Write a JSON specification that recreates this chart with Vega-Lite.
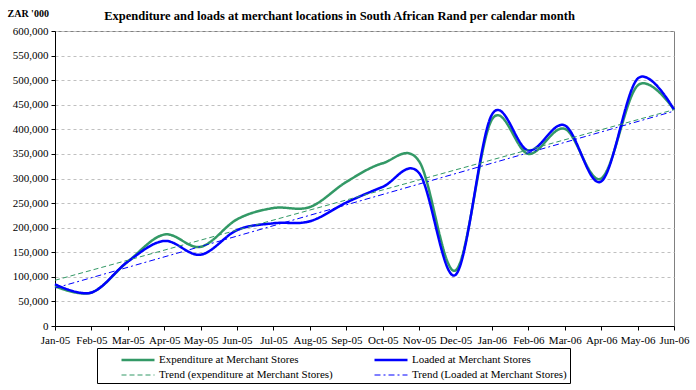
{
  "$schema": "https://vega.github.io/schema/vega-lite/v6.json",
  "width": 619,
  "height": 295,
  "autosize": "none",
  "padding": {"left": 55, "top": 31, "right": 22, "bottom": 64},
  "background": "white",
  "title": {
    "text": "Expenditure and loads at merchant locations in South African Rand per calendar month",
    "font": "Liberation Serif",
    "fontSize": 12.5,
    "fontWeight": "bold",
    "color": "black",
    "anchor": "middle",
    "offset": -14,
    "dx": -25
  },
  "datasets": {
    "main": [
      {"month": "Jan-05", "series": "Expenditure at Merchant Stores", "value": 81000},
      {"month": "Feb-05", "series": "Expenditure at Merchant Stores", "value": 68000},
      {"month": "Mar-05", "series": "Expenditure at Merchant Stores", "value": 131000},
      {"month": "Apr-05", "series": "Expenditure at Merchant Stores", "value": 186000},
      {"month": "May-05", "series": "Expenditure at Merchant Stores", "value": 161000},
      {"month": "Jun-05", "series": "Expenditure at Merchant Stores", "value": 217000},
      {"month": "Jul-05", "series": "Expenditure at Merchant Stores", "value": 240000},
      {"month": "Aug-05", "series": "Expenditure at Merchant Stores", "value": 242000},
      {"month": "Sep-05", "series": "Expenditure at Merchant Stores", "value": 293000},
      {"month": "Oct-05", "series": "Expenditure at Merchant Stores", "value": 331000},
      {"month": "Nov-05", "series": "Expenditure at Merchant Stores", "value": 335000},
      {"month": "Dec-05", "series": "Expenditure at Merchant Stores", "value": 113000},
      {"month": "Jan-06", "series": "Expenditure at Merchant Stores", "value": 420000},
      {"month": "Feb-06", "series": "Expenditure at Merchant Stores", "value": 350000},
      {"month": "Mar-06", "series": "Expenditure at Merchant Stores", "value": 401000},
      {"month": "Apr-06", "series": "Expenditure at Merchant Stores", "value": 300000},
      {"month": "May-06", "series": "Expenditure at Merchant Stores", "value": 489000},
      {"month": "Jun-06", "series": "Expenditure at Merchant Stores", "value": 440000},
      {"month": "Jan-05", "series": "Loaded at Merchant Stores", "value": 85000},
      {"month": "Feb-05", "series": "Loaded at Merchant Stores", "value": 68000},
      {"month": "Mar-05", "series": "Loaded at Merchant Stores", "value": 131000},
      {"month": "Apr-05", "series": "Loaded at Merchant Stores", "value": 173000},
      {"month": "May-05", "series": "Loaded at Merchant Stores", "value": 145000},
      {"month": "Jun-05", "series": "Loaded at Merchant Stores", "value": 195000},
      {"month": "Jul-05", "series": "Loaded at Merchant Stores", "value": 209000},
      {"month": "Aug-05", "series": "Loaded at Merchant Stores", "value": 213000},
      {"month": "Sep-05", "series": "Loaded at Merchant Stores", "value": 251000},
      {"month": "Oct-05", "series": "Loaded at Merchant Stores", "value": 283000},
      {"month": "Nov-05", "series": "Loaded at Merchant Stores", "value": 311000},
      {"month": "Dec-05", "series": "Loaded at Merchant Stores", "value": 104000},
      {"month": "Jan-06", "series": "Loaded at Merchant Stores", "value": 430000},
      {"month": "Feb-06", "series": "Loaded at Merchant Stores", "value": 357000},
      {"month": "Mar-06", "series": "Loaded at Merchant Stores", "value": 408000},
      {"month": "Apr-06", "series": "Loaded at Merchant Stores", "value": 294000},
      {"month": "May-06", "series": "Loaded at Merchant Stores", "value": 503000},
      {"month": "Jun-06", "series": "Loaded at Merchant Stores", "value": 440000}
    ],
    "trend": [
      {"month": "Jan-05", "series": "Trend (expenditure at Merchant Stores)", "value": 93000},
      {"month": "Jun-06", "series": "Trend (expenditure at Merchant Stores)", "value": 440000},
      {"month": "Jan-05", "series": "Trend (Loaded at Merchant Stores)", "value": 77000},
      {"month": "Jun-06", "series": "Trend (Loaded at Merchant Stores)", "value": 437000}
    ]
  },
  "encoding": {
    "x": {
      "field": "month",
      "type": "ordinal",
      "sort": ["Jan-05","Feb-05","Mar-05","Apr-05","May-05","Jun-05","Jul-05","Aug-05","Sep-05","Oct-05","Nov-05","Dec-05","Jan-06","Feb-06","Mar-06","Apr-06","May-06","Jun-06"],
      "scale": {"type": "point", "padding": 0},
      "axis": {
        "title": null,
        "labelAngle": 0,
        "grid": false,
        "tickSize": 4,
        "labelPadding": 4
      }
    },
    "y": {
      "field": "value",
      "type": "quantitative",
      "scale": {"domain": [0, 600000], "nice": false},
      "axis": {
        "title": "ZAR '000",
        "titleAngle": 0,
        "titleX": -48,
        "titleY": -18,
        "titleAlign": "left",
        "titleBaseline": "middle",
        "titleFont": "Liberation Serif",
        "titleFontSize": 10,
        "titleFontWeight": "bold",
        "titleColor": "black",
        "values": [0, 50000, 100000, 150000, 200000, 250000, 300000, 350000, 400000, 450000, 500000, 550000, 600000],
        "format": ",.0f",
        "grid": true,
        "gridDash": [3, 3],
        "gridColor": "#c0c0c0",
        "tickSize": 4,
        "labelPadding": 3
      }
    },
    "color": {
      "field": "series",
      "type": "nominal",
      "scale": {
        "domain": ["Expenditure at Merchant Stores", "Loaded at Merchant Stores", "Trend (expenditure at Merchant Stores)", "Trend (Loaded at Merchant Stores)"],
        "range": ["#339966", "#0000ff", "#339966", "#0000ff"]
      },
      "legend": {
        "title": null,
        "orient": "none",
        "legendX": 42,
        "legendY": 317,
        "columns": 2,
        "direction": "horizontal",
        "gridAlign": "all",
        "columnPadding": 20,
        "rowPadding": 2,
        "padding": 3,
        "strokeColor": "black",
        "fillColor": "white",
        "symbolType": "M-2.2,0H2.2",
        "symbolSize": 225,
        "symbolOffset": 29,
        "labelOffset": 12,
        "labelFont": "Liberation Serif",
        "labelFontSize": 11,
        "labelColor": "black",
        "labelLimit": 400
      }
    },
    "strokeDash": {
      "field": "series",
      "type": "nominal",
      "scale": {
        "domain": ["Expenditure at Merchant Stores", "Loaded at Merchant Stores", "Trend (expenditure at Merchant Stores)", "Trend (Loaded at Merchant Stores)"],
        "range": [[1, 0], [1, 0], [5, 3], [6, 3, 2, 3]]
      }
    },
    "strokeWidth": {
      "field": "series",
      "type": "nominal",
      "scale": {
        "type": "ordinal",
        "domain": ["Expenditure at Merchant Stores", "Loaded at Merchant Stores", "Trend (expenditure at Merchant Stores)", "Trend (Loaded at Merchant Stores)"],
        "range": [2.5, 2.5, 1, 1]
      }
    }
  },
  "layer": [
    {
      "data": {"name": "main"},
      "mark": {"type": "line", "interpolate": "cardinal", "tension": 0}
    },
    {
      "data": {"name": "trend"},
      "mark": {"type": "line"}
    }
  ],
  "config": {
    "view": {"stroke": "#808080", "strokeWidth": 1},
    "axis": {
      "labelFont": "Liberation Serif",
      "labelFontSize": 11,
      "labelColor": "black",
      "domainColor": "black",
      "tickColor": "black",
      "domainWidth": 1
    }
  }
}
